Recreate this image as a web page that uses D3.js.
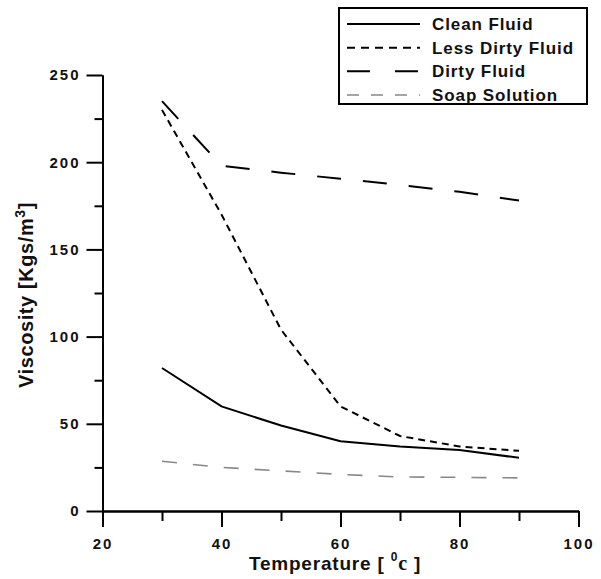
<!DOCTYPE html>
<html>
<head>
<meta charset="utf-8">
<script src="https://cdn.jsdelivr.net/npm/d3@7"></script>
<style>
  html, body { margin: 0; padding: 0; background: #fff; }
  svg { display: block; }
  text { font-family: "Liberation Sans", Arial, sans-serif; font-weight: bold; fill: #111; }
</style>
</head>
<body>
<svg id="chart" width="601" height="579"></svg>
<script>
// ---- data ----
const temperatures = [30, 40, 50, 60, 70, 80, 90];
const cleanFluid     = [82, 60, 49, 40, 37, 35, 30.5];
const lessDirtyFluid = [230, 170, 104, 60, 43, 37, 34.5];
const dirtyFluid     = [235, 198, 194, 190.5, 187, 183, 178];
const soapSolution   = [28.5, 25, 23, 21, 19.5, 19.3, 19];
const seriesNames = ["Clean Fluid", "Less Dirty Fluid", "Dirty Fluid", "Soap Solution"];
const xMajorTicks = [20, 40, 60, 80, 100];
const xMinorTicks = [30, 50, 70, 90];
const yMajorTicks = [0, 50, 100, 150, 200, 250];
const yMinorTicks = [25, 75, 125, 175, 225];

// ---- styles ----
const styles = [
  { color: "#000", width: 2,   dash: null,    legendDash: null },
  { color: "#000", width: 2,   dash: "7,5",   legendDash: "8,6" },
  { color: "#000", width: 2,   dash: "24,22", legendDash: "23,25" },
  { color: "#888", width: 1.6, dash: "15,16", legendDash: "12,12" }
];
const seriesValues = [cleanFluid, lessDirtyFluid, dirtyFluid, soapSolution];

const svg = d3.select("#chart");
const x = d3.scaleLinear().domain([20, 100]).range([102.5, 578.5]);
const y = d3.scaleLinear().domain([0, 250]).range([511, 75]);

// ---- axes ----
function styleAxis(g) {
  g.selectAll("path.domain").attr("stroke", "#000").attr("stroke-width", 2);
  g.selectAll(".tick line").attr("stroke", "#000").attr("stroke-width", 2);
  g.selectAll(".tick text")
    .style("font-family", '"Liberation Sans", Arial, sans-serif')
    .style("font-weight", "bold").style("font-size", "15px")
    .style("letter-spacing", "2px").attr("fill", "#111");
}

const yAxisMinor = svg.append("g").attr("transform", `translate(${x(20)},0)`)
  .call(d3.axisLeft(y).tickValues(yMinorTicks).tickSize(8).tickSizeOuter(0).tickFormat(""));
styleAxis(yAxisMinor);
const yAxis = svg.append("g").attr("transform", `translate(${x(20)},0)`)
  .call(d3.axisLeft(y).tickValues(yMajorTicks).tickSize(16).tickPadding(6).tickSizeOuter(0).tickFormat(d3.format("d")));
styleAxis(yAxis);

const xAxisMinor = svg.append("g").attr("transform", `translate(0,${y(0)})`)
  .call(d3.axisBottom(x).tickValues(xMinorTicks).tickSize(10).tickSizeOuter(0).tickFormat(""));
styleAxis(xAxisMinor);
const xAxis = svg.append("g").attr("transform", `translate(0,${y(0)})`)
  .call(d3.axisBottom(x).tickValues(xMajorTicks).tickSize(16).tickPadding(11).tickSizeOuter(0).tickFormat(d3.format("d")));
styleAxis(xAxis);

// ---- lines ----
const line = d3.line().x(d => x(d[0])).y(d => y(d[1]));
seriesValues.forEach((vals, i) => {
  const pts = temperatures.map((t, j) => [t, vals[j]]);
  svg.append("path").datum(pts)
    .attr("d", line)
    .attr("fill", "none")
    .attr("stroke", styles[i].color)
    .attr("stroke-width", styles[i].width)
    .attr("stroke-dasharray", styles[i].dash);
});

// ---- axis titles ----
const xt = svg.append("text")
  .attr("x", 335).attr("y", 570)
  .attr("text-anchor", "middle")
  .style("font-size", "19px").style("letter-spacing", "0.8px");
xt.append("tspan").text("Temperature [ ");
xt.append("tspan").attr("dy", -9).style("font-size", "12px").text("0");
xt.append("tspan").attr("dy", 9).style("font-family", '"Liberation Serif", "Times New Roman", serif').style("font-size", "20px").text("c");
xt.append("tspan").text(" ]");

const yt = svg.append("text")
  .attr("transform", "translate(33,295) rotate(-90)")
  .attr("text-anchor", "middle")
  .style("font-size", "20px").style("letter-spacing", "0.6px");
yt.append("tspan").text("Viscosity [Kgs/m");
yt.append("tspan").attr("dy", -8).style("font-size", "14px").text("3");
yt.append("tspan").attr("dy", 8).text("]");

// ---- legend ----
const legend = svg.append("g");
legend.append("rect")
  .attr("x", 339).attr("y", 8).attr("width", 248).attr("height", 96)
  .attr("fill", "#fff").attr("stroke", "#000").attr("stroke-width", 2);
const rowY = d3.scalePoint().domain(seriesNames).range([24, 95]);
seriesNames.forEach((name, i) => {
  const yy = rowY(name);
  legend.append("line")
    .attr("x1", 347).attr("x2", 420).attr("y1", yy).attr("y2", yy)
    .attr("stroke", styles[i].color).attr("stroke-width", styles[i].width)
    .attr("stroke-dasharray", styles[i].legendDash);
  legend.append("text")
    .attr("x", 432).attr("y", yy).attr("dy", "0.36em")
    .style("font-size", "17px").style("letter-spacing", "0.9px")
    .text(name);
});
</script>
</body>
</html>
